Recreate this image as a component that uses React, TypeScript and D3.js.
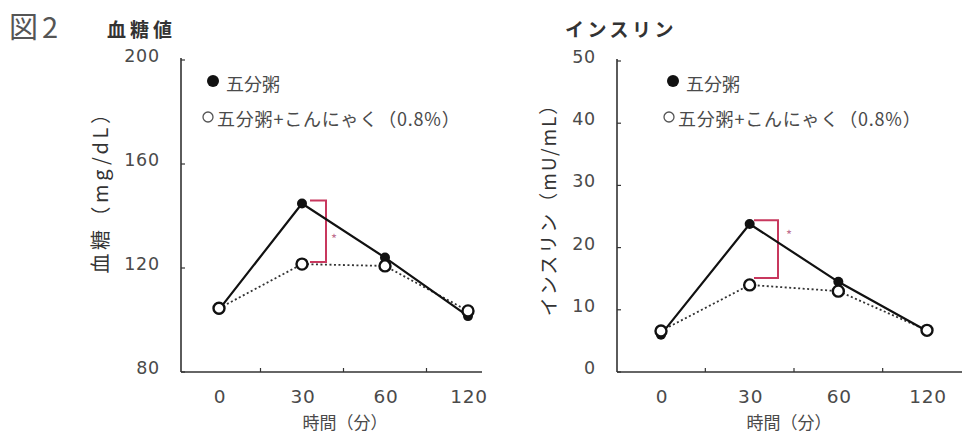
import React from "react";
import * as d3 from "d3";

const times = ["0", "30", "60", "120"];
const glucoseControl = [104, 144.8, 124, 101.5];
const glucoseKonjac = [104.5, 121.5, 120.8, 103.5];
const glucoseBracket = [146, 122.3];
const insulinControl = [6, 23.8, 14.5, 6.6];
const insulinKonjac = [6.6, 14, 13, 6.7];
const insulinBracket = [24.4, 15.1];
const glucoseTicks = [80, 120, 160, 200];
const insulinTicks = [0, 10, 20, 30, 40, 50];
const legendLabels = ["五分粥", "五分粥+こんにゃく（0.8%）"];

const FONT = "'Noto Sans CJK JP', 'Noto Sans', sans-serif";
const NUM = "'DejaVu Sans', sans-serif";
const TXT = "#4a4a4a";

type PanelProps = {
  axisX: number;
  axisEnd: number;
  xRange: [number, number];
  yDomain: [number, number];
  yRange: [number, number];
  ticks: number[];
  control: number[];
  konjac: number[];
  bracket: number[];
  title: string;
  titleX: number;
  titleSpacing: number;
  yLabel: string;
  yLabelX: number;
  yLabelY: number;
  yLabelSize: number;
  yLabelSpacing: number;
  legendX: number;
  legendX2: number;
  bracketX: number;
  bracketLeft: number;
  starDx: number;
  starDy: number;
  xLabelX: number;
};

function Panel(p: PanelProps) {
  const x = d3.scalePoint<string>().domain(times).range(p.xRange);
  const y = d3.scaleLinear().domain(p.yDomain).range(p.yRange);
  const base = y(p.yDomain[0]);
  const top = y(p.yDomain[1]);
  const line = d3
    .line<number>()
    .x((_, i) => x(times[i]) as number)
    .y((d) => y(d));
  const step = x.step();
  const bTop = y(p.bracket[0]);
  const bBot = y(p.bracket[1]);
  return (
    <g>
      <text
        x={p.titleX}
        y={37}
        fontFamily={FONT}
        fontSize={19}
        fontWeight={700}
        letterSpacing={p.titleSpacing}
        fill="#333"
      >
        {p.title}
      </text>
      {/* axes */}
      <line x1={p.axisX} x2={p.axisX} y1={top - 2} y2={base} stroke="#333" strokeWidth={1.6} />
      <line x1={p.axisX} x2={p.axisEnd} y1={base} y2={base} stroke="#333" strokeWidth={1.6} />
      {p.ticks.map((t) => (
        <g key={t}>
          <line x1={p.axisX} x2={p.axisX + 4} y1={y(t)} y2={y(t)} stroke="#333" strokeWidth={1.2} />
          <text
            x={p.axisX - 21}
            y={y(t) - 4}
            textAnchor="end"
            dominantBaseline="central"
            fontFamily={NUM}
            fontSize={17.5}
            letterSpacing={0.8}
            fill={TXT}
          >
            {t}
          </text>
        </g>
      ))}
      {times.slice(0, 3).map((t) => (
        <line
          key={t}
          x1={(x(t) as number) + step / 2}
          x2={(x(t) as number) + step / 2}
          y1={base}
          y2={base - 4}
          stroke="#333"
          strokeWidth={1.2}
        />
      ))}
      {times.map((t) => (
        <text
          key={t}
          x={(x(t) as number) + 1}
          y={base + 24}
          textAnchor="middle"
          dominantBaseline="central"
          fontFamily={NUM}
          fontSize={18.5}
          letterSpacing={0.8}
          fill={TXT}
        >
          {t}
        </text>
      ))}
      <text
        x={p.xLabelX}
        y={421}
        textAnchor="middle"
        dominantBaseline="central"
        fontFamily={FONT}
        fontSize={17}
        fill={TXT}
      >
        時間（分）
      </text>
      <text
        transform={`translate(${p.yLabelX},${p.yLabelY}) rotate(-90)`}
        textAnchor="middle"
        dominantBaseline="central"
        fontFamily={FONT}
        fontSize={p.yLabelSize}
        letterSpacing={p.yLabelSpacing}
        fill="#333"
      >
        {p.yLabel}
      </text>
      {/* legend */}
      <circle cx={p.legendX} cy={81} r={6} fill="#111" />
      <text x={p.legendX + 13} y={83} dominantBaseline="central" fontFamily={FONT} fontSize={18} fill={TXT}>
        {legendLabels[0]}
      </text>
      <circle cx={p.legendX2} cy={117} r={5} fill="white" stroke="#555" strokeWidth={1.3} />
      <text
        x={p.legendX2 + 9}
        y={118}
        dominantBaseline="central"
        fontFamily={FONT}
        fontSize={18}
        letterSpacing={0.8}
        fill={TXT}
      >
        {legendLabels[1]}
      </text>
      {/* significance bracket */}
      <path
        d={`M${p.bracketLeft},${bTop} H${p.bracketX} V${bBot} H${p.bracketLeft}`}
        fill="none"
        stroke="#c8385e"
        strokeWidth={2}
      />
      <text
        x={p.bracketX + p.starDx}
        y={bTop + p.starDy}
        fontFamily={FONT}
        fontSize={13}
        fill="#c07090"
        textAnchor="middle"
        dominantBaseline="central"
      >
        *
      </text>
      {/* lines */}
      <path d={line(p.konjac) || ""} fill="none" stroke="#333" strokeWidth={1.8} strokeDasharray="2,2.5" />
      <path d={line(p.control) || ""} fill="none" stroke="#111" strokeWidth={2.2} />
      {p.control.map((v, i) => (
        <circle key={"c" + i} cx={x(times[i])} cy={y(v)} r={5} fill="#111" />
      ))}
      {p.konjac.map((v, i) => (
        <circle key={"k" + i} cx={x(times[i])} cy={y(v)} r={5.5} fill="white" stroke="#111" strokeWidth={2.4} />
      ))}
    </g>
  );
}

export default function App() {
  return (
    <svg
      width={969}
      height={436}
      style={{ position: "absolute", left: 0, top: 0, background: "white" }}
    >
      <rect width={969} height={436} fill="white" />
      <text x={9} y={38} fontFamily={FONT} fontSize={29} letterSpacing={4} fill="#555">
        図2
      </text>
      <Panel
        axisX={181}
        axisEnd={482}
        xRange={[219, 468]}
        yDomain={[80, 200]}
        yRange={[372, 60]}
        ticks={glucoseTicks}
        control={glucoseControl}
        konjac={glucoseKonjac}
        bracket={glucoseBracket}
        title="血糖値"
        titleX={107}
        titleSpacing={4}
        yLabel="血糖（mg/dL）"
        yLabelX={99}
        yLabelY={187}
        yLabelSize={20}
        yLabelSpacing={3.5}
        legendX={213}
        legendX2={208}
        bracketX={326}
        bracketLeft={310}
        starDx={8}
        starDy={38}
        xLabelX={345}
      />
      <Panel
        axisX={617}
        axisEnd={962}
        xRange={[661, 927]}
        yDomain={[0, 50]}
        yRange={[372, 61]}
        ticks={insulinTicks}
        control={insulinControl}
        konjac={insulinKonjac}
        bracket={insulinBracket}
        title="インスリン"
        titleX={565}
        titleSpacing={3.5}
        yLabel="インスリン（mU/mL）"
        yLabelX={547}
        yLabelY={205}
        yLabelSize={19}
        yLabelSpacing={2}
        legendX={673}
        legendX2={669}
        bracketX={778}
        bracketLeft={754}
        starDx={11}
        starDy={14}
        xLabelX={789}
      />
    </svg>
  );
}
